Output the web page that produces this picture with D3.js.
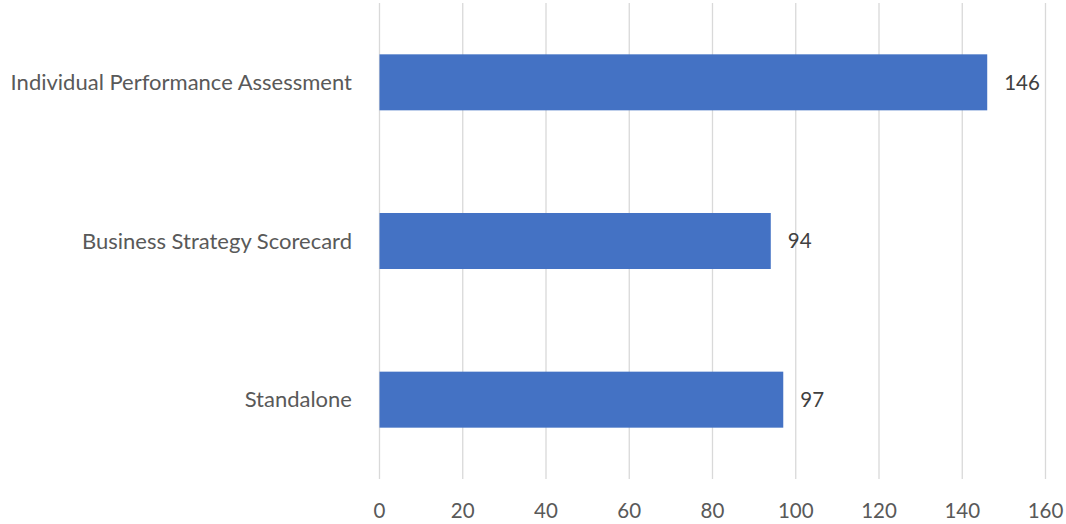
<!DOCTYPE html>
<html><head><meta charset="utf-8">
<script src="https://cdn.jsdelivr.net/npm/d3@7"></script>
<style>body{margin:0;background:#fff}svg{display:block}</style>
</head><body>
<svg id="c" width="1066" height="524"></svg>
<script>
const categories = ["Individual Performance Assessment", "Business Strategy Scorecard", "Standalone"];
const values = [146, 94, 97];
const tickValues = [0, 20, 40, 60, 80, 100, 120, 140, 160];

(function () {
const svg = d3.select("#c");
const font = "Lato, 'Open Sans', sans-serif";
const pL = 379.5, pR = 1045.5, pT = 3, pB = 479;
const x = d3.scaleLinear().domain([0, 160]).range([pL, pR]);
const y = d3.scaleBand().domain(categories).range([pT, pB]).paddingInner(0.647).paddingOuter(0.3235);

svg.append("g").selectAll("line").data(tickValues).join("line")
  .attr("x1", d => x(d)).attr("x2", d => x(d))
  .attr("y1", pT).attr("y2", pB)
  .attr("stroke", "#d9d9d9").attr("stroke-width", 1.3);

svg.append("g").selectAll("rect").data(values).join("rect")
  .attr("x", x(0)).attr("y", (d, i) => y(categories[i]))
  .attr("width", d => x(d) - x(0)).attr("height", y.bandwidth())
  .attr("fill", "#4472c4");

svg.append("g").selectAll("text").data(values).join("text")
  .attr("x", d => x(d) + 17).attr("y", (d, i) => y(categories[i]) + y.bandwidth() / 2)
  .attr("dy", "0.35em").attr("font-family", font).attr("font-size", 20.5).attr("fill", "#404040")
  .text(d => d);

svg.append("g").selectAll("text").data(categories).join("text")
  .attr("x", 352).attr("y", d => y(d) + y.bandwidth() / 2)
  .attr("dy", "0.35em").attr("text-anchor", "end")
  .attr("font-family", font).attr("font-size", 22).attr("fill", "#595959")
  .text(d => d);

svg.append("g").selectAll("text").data(tickValues).join("text")
  .attr("x", d => x(d)).attr("y", 510.5)
  .attr("dy", "0.35em").attr("text-anchor", "middle")
  .attr("font-family", font).attr("font-size", 20.5).attr("fill", "#595959")
  .text(d => d);
})();
</script>
</body></html>
